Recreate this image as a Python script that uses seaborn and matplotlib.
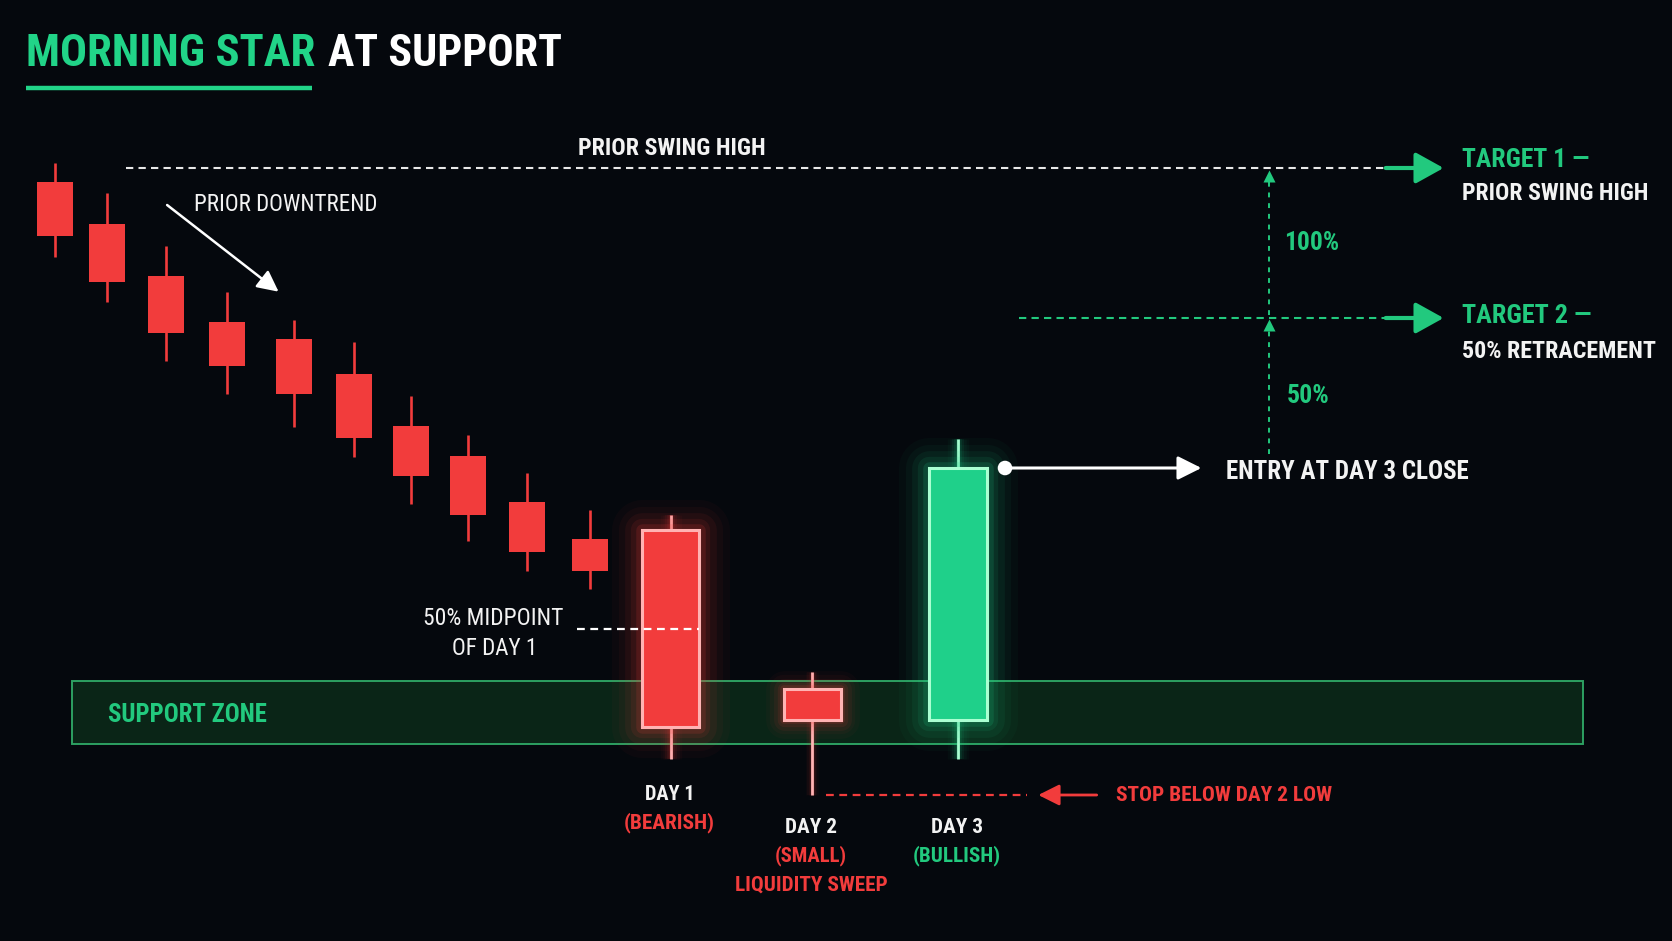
import matplotlib
matplotlib.use('Agg')
import matplotlib.pyplot as plt
import matplotlib.patheffects as pe
from matplotlib.patches import Rectangle
from matplotlib.textpath import TextPath
from matplotlib.font_manager import FontProperties, fontManager
import seaborn as sns

# candle data (price units)
candle_x = [55.4, 106.8, 165.8, 227.0, 293.8, 353.5, 410.9, 467.9, 527.3, 589.7, 670.5, 812.3, 958.0]
opens = [75.9, 71.7, 66.5, 61.9, 60.2, 56.7, 51.5, 48.5, 43.9, 40.2, 41.1, 25.2, 22.1]
highs = [77.8, 74.8, 69.5, 64.9, 62.1, 59.9, 54.5, 50.6, 46.8, 43.1, 42.6, 26.9, 50.2]
lows = [68.4, 63.9, 58.0, 54.7, 51.4, 48.4, 43.7, 40.0, 37.0, 35.2, 18.2, 14.6, 18.2]
closes = [70.5, 65.9, 60.8, 57.5, 54.7, 50.3, 46.5, 42.6, 38.9, 37.0, 21.4, 22.1, 47.3]

swing_high = 77.3
zone_low, zone_high = 19.7, 26.0

day_names = ['DAY 1', 'DAY 2', 'DAY 3']
day_notes = [['(BEARISH)'], ['(SMALL)', 'LIQUIDITY SWEEP'], ['(BULLISH)']]

BG = '#05080d'
RED = '#f23c3c'
RED_EDGE = '#ffb3b3'
GREEN = '#1fd08a'
GREEN_EDGE = '#aaffd2'
GREEN_TXT = '#22c97e'
TITLE_GREEN = '#21d488'
WHITE = '#f3f3f3'

sns.set_theme(style='dark', rc={'axes.facecolor': BG, 'figure.facecolor': BG})

# pick a condensed face if there is one
names = {f.name for f in fontManager.ttflist}
cond = sorted({f.name for f in fontManager.ttflist
               if f.stretch in ('condensed', 'extra-condensed', 'ultra-condensed', 'semi-condensed')})
FONT = 'DejaVu Sans'
for cand in ['Roboto Condensed', 'Noto Sans ExtraCondensed', 'Noto Sans Condensed', 'Open Sans Condensed',
             'Liberation Sans Narrow', 'DejaVu Sans Condensed'] + cond:
    if cand in names:
        FONT = cand
        break
plt.rcParams['font.family'] = [FONT, 'DejaVu Sans']


def py(ypx):
    # pixel row of the reference -> price
    return (941 - ypx) / 10


fig = plt.figure(figsize=(16.72, 9.41), dpi=100)
ax = fig.add_axes([0, 0, 1, 1])
ax.set_xlim(0, 1672)
ax.set_ylim(0, 94.1)
ax.axis('off')
renderer = fig.canvas.get_renderer()


def put(s, x, yc, cap, width, color=WHITE, ha='left', weight='bold', slack=1.02):
    prop = FontProperties(family=[FONT, 'DejaVu Sans'], weight=weight)
    h100 = TextPath((0, 0), 'H', size=100, prop=prop).get_extents().height
    fs = cap * 72 / h100
    prop.set_size(fs)
    t = ax.text(x, py(yc + cap / 2), s, color=color, ha=ha, va='baseline', fontproperties=prop, zorder=8)
    w = t.get_window_extent(renderer).width
    if w > width * slack:
        k = width * slack / w
        t.set_fontsize(fs * k)
        t.set_y(py(yc + cap * k / 2))
    return t


def glow(c, scale=1.0):
    fx = [pe.Stroke(linewidth=w * scale, foreground=c, alpha=a, joinstyle='round')
          for w, a in [(44, .03), (34, .045), (25, .065), (16, .09), (9, .15)]]
    return fx + [pe.Normal()]


# support zone
ax.add_patch(Rectangle((72, zone_low), 1583 - 72, zone_high - zone_low, facecolor='#0b2718',
                       edgecolor='#2fa866', lw=1.4, alpha=0.95, zorder=1))
put('SUPPORT ZONE', 107.7, 713.3, 20, 156, color=GREEN_TXT)

# prior downtrend candles
n_small = 10
ax.vlines(candle_x[:n_small], lows[:n_small], highs[:n_small], color=RED, lw=1.9, zorder=3)
ax.bar(candle_x[:n_small], [c - o for o, c in zip(opens[:n_small], closes[:n_small])],
       bottom=opens[:n_small], width=36, color=RED, edgecolor='none', zorder=3)

# the three morning star candles
for i in range(n_small, len(candle_x)):
    bull = closes[i] > opens[i]
    fill, edge = (GREEN, GREEN_EDGE) if bull else (RED, RED_EDGE)
    sc = 0.6 if i == n_small + 1 else 1.0
    ax.vlines(candle_x[i], lows[i], highs[i], color=edge, lw=2.0, zorder=4,
              path_effects=glow(fill, 0.35 * sc))
    ax.add_patch(Rectangle((candle_x[i] - 28.8, min(opens[i], closes[i])), 57.6, abs(closes[i] - opens[i]),
                           facecolor=fill, edgecolor=edge, lw=2.2, zorder=5, path_effects=glow(fill, sc)))

# title
t1 = put('MORNING STAR', 26, 50.5, 42, 278, color=TITLE_GREEN, slack=1.04)
bb = t1.get_window_extent(renderer)
t2 = put('AT SUPPORT', bb.x1 + 13, 50.5, 42, 225, color='white', slack=1.04)
ax.plot([26, bb.x1 - 3], [py(88.3), py(88.3)], color=TITLE_GREEN, lw=3.2, solid_capstyle='butt')

# prior swing high / target 1
ax.plot([125.8, 1385.7], [swing_high, swing_high], color='#e8e8e8', lw=1.5, ls=(0, (3.5, 2.5)), zorder=2)
put('PRIOR SWING HIGH', 672.3, 147, 17.4, 183, ha='center')
arrow_kw = dict(arrowstyle='-|>,head_length=0.9,head_width=0.5', lw=3.0, color=GREEN_TXT,
                shrinkA=0, shrinkB=0, mutation_scale=19)
ax.annotate('', xy=(1443.6, swing_high), xytext=(1385.7, swing_high), arrowprops=arrow_kw, zorder=6)
put('TARGET 1 —', 1461.6, 157.5, 18.3, 127, color=GREEN_TXT)
put('PRIOR SWING HIGH', 1461.6, 192, 17.7, 183)

# target 2 at 50% of the move from entry to swing high
entry = closes[-1]
target2 = (entry + swing_high) / 2
ax.plot([1019.3, 1385.7], [target2, target2], color=GREEN_TXT, lw=1.5, ls=(0, (3.5, 2.5)), zorder=2)
ax.annotate('', xy=(1443.6, target2), xytext=(1385.7, target2), arrowprops=arrow_kw, zorder=6)
put('TARGET 2 —', 1461.6, 313.8, 19, 127, color=GREEN_TXT)
put('50% RETRACEMENT', 1461.6, 349.3, 18.7, 189)

# vertical measuring line
vx = 1269.2
ax.plot([vx, vx], [entry + 1.4, target2 - 1.2], color=GREEN_TXT, lw=1.4, ls=(0, (2.5, 3)), zorder=2)
ax.plot([vx, vx], [target2 + 0.3, swing_high - 1.3], color=GREEN_TXT, lw=1.4, ls=(0, (2.5, 3)), zorder=2)
ax.plot([vx, vx], [target2 - 0.65, swing_high - 0.75], ls='none', marker='^', ms=8,
        color=GREEN_TXT, mec='none', zorder=3)
put('100%', 1284, 241, 19, 54, color=GREEN_TXT)
put('50%', 1286.3, 394, 18.3, 43, color=GREEN_TXT)

# entry at day 3 close
ax.annotate('', xy=(1201.4, entry), xytext=(1005, entry),
            arrowprops=dict(arrowstyle='-|>,head_length=0.9,head_width=0.45', lw=2.2, color='white',
                            shrinkA=0, shrinkB=0, mutation_scale=16), zorder=6)
sns.scatterplot(x=[1005], y=[entry], s=110, color='white', edgecolor='none', ax=ax, zorder=7, legend=False)
put('ENTRY AT DAY 3 CLOSE', 1225.9, 469.7, 20.7, 245, slack=0.99)

# 50% midpoint of day 1
mid = (opens[n_small] + closes[n_small]) / 2
ax.plot([577, candle_x[n_small] + 28.8], [mid, mid], color='white', lw=1.6, ls=(0, (3.5, 2.5)), zorder=6)
put('50% MIDPOINT', 493.3, 616.7, 16.7, 140, ha='center', weight='normal')
put('OF DAY 1', 494.8, 646.7, 16.7, 84, ha='center', weight='normal')

# prior downtrend
put('PRIOR DOWNTREND', 194, 203.3, 16.7, 180, weight='normal')
ax.annotate('', xy=(278.6, py(291.7)), xytext=(167.1, py(205)),
            arrowprops=dict(arrowstyle='-|>,head_length=0.8,head_width=0.4', lw=1.8, color='white',
                            shrinkA=0, shrinkB=0, mutation_scale=16), zorder=6)

# stop below day 2 low
stop = lows[n_small + 1]
ax.plot([825.8, 1027], [stop, stop], color=RED, lw=1.6, ls=(0, (3.5, 2.5)), zorder=2)
ax.annotate('', xy=(1038.3, stop), xytext=(1096.7, stop),
            arrowprops=dict(arrowstyle='-|>,head_length=0.8,head_width=0.4', lw=2.0, color=RED,
                            shrinkA=0, shrinkB=0, mutation_scale=16), zorder=6)
put('STOP BELOW DAY 2 LOW', 1116, 793.8, 17.7, 212, color=RED)

# day labels
name_y = [792.3, 825, 825]
note_colors = [RED, RED, GREEN_TXT]
name_w = [49, 51, 51]
note_w = [[89], [71, 150], [86]]
for k in range(3):
    cx = candle_x[n_small + k]
    put(day_names[k], cx - 1, name_y[k], 15.7, name_w[k], ha='center', weight='semibold')
    for j, note in enumerate(day_notes[k]):
        put(note, cx - 1, name_y[k] + 29 * (j + 1), 15.7, note_w[k][j], color=note_colors[k], ha='center',
            weight='semibold')

fig.savefig('out.png', dpi=100, facecolor=BG)
